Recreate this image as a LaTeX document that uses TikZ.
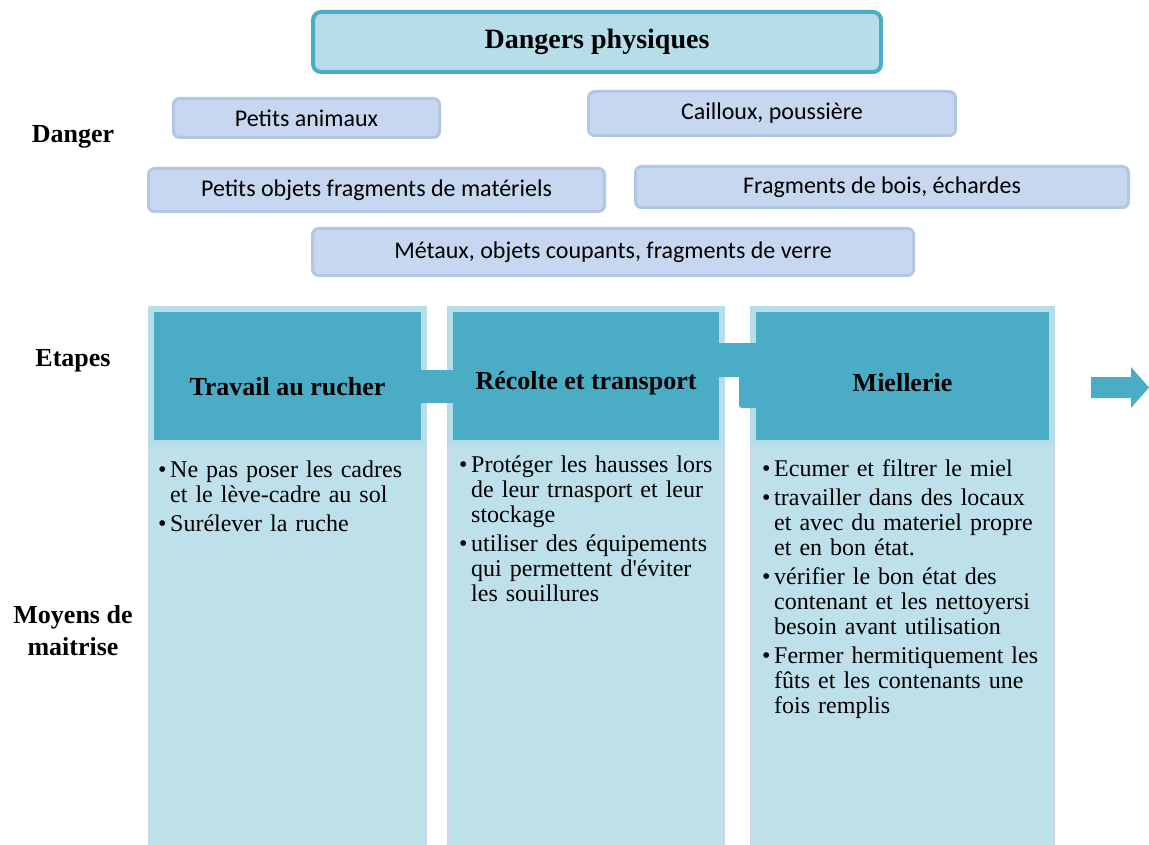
\documentclass[tikz,border=0pt]{standalone}
\usepackage{fontspec}
\setmainfont{Liberation Serif}[Ligatures=TeXOff]
\newfontfamily\calibfont{Carlito}
\usetikzlibrary{calc}

\definecolor{bleufonce}{HTML}{4BACC6}
\definecolor{bleuclair}{HTML}{B7DDE8}
\definecolor{bleucorps}{HTML}{BDE0EA}
\definecolor{lavande}{HTML}{C6D7EF}
\definecolor{lavandebord}{HTML}{B3C6E3}
\definecolor{corpsbord}{HTML}{CDD6E8}

% puce avec retrait suspendu
\newcommand{\puce}{\par\hangindent=12pt\hangafter=1\noindent\makebox[12pt][l]{\textbullet}}
\newcommand{\ligne}{\hfil\break}

\tikzset{
  danger/.style={draw=lavandebord, fill=lavande, line width=3pt, rounded corners=6pt,
    inner sep=0pt, font=\calibfont\fontsize{24}{28}\selectfont},
  entete/.style={draw=bleuclair, fill=bleufonce, line width=6pt, minimum height=134pt, inner sep=0pt},
  corps/.style={draw=corpsbord, fill=bleucorps, line width=2pt, anchor=north,
    minimum height=420pt, inner sep=0pt},
  titreetape/.style={inner sep=0pt, font=\bfseries\fontsize{26}{30}\selectfont},
  rangee/.style={inner sep=0pt, align=center, font=\bfseries\fontsize{26}{32}\selectfont},
  texte/.style={anchor=north west, text width=320pt, inner sep=0pt,
    font=\fontsize{24}{25}\selectfont\setlength{\parskip}{4pt}\raggedright}
}

\begin{document}
\begin{tikzpicture}[x=1pt,y=-1pt]
  \useasboundingbox (0,0) rectangle (1149,845);

  % titre
  \node[draw=bleufonce, fill=bleuclair, line width=4pt, rounded corners=8pt,
    minimum width=568, minimum height=60, font=\bfseries\fontsize{28}{32}\selectfont]
    (titre) at (597,42) {\raisebox{-2pt}{Dangers physiques}};

  % dangers
  \node[danger, minimum width=266, minimum height=39] (d1) at (306.5,118) {Petits animaux};
  \node[danger, minimum width=367, minimum height=44] (d2) at (772,113.5) {Cailloux, poussière};
  \node[danger, minimum width=456, minimum height=43] (d3) at (376.5,190) {Petits objets fragments de matériels};
  \node[danger, minimum width=493, minimum height=41] (d4) at (882,187) {Fragments de bois, échardes};
  \node[danger, minimum width=601, minimum height=47] (d5) at (613,252) {Métaux, objets coupants, fragments de verre};

  % libelles des rangees
  \node[rangee] (r1) at (73,137) {Danger};
  \node[rangee] (r2) at (73,361) {Etapes};
  \node[rangee] (r3) at (73,631) {Moyens de\\maitrise};

  % corps des colonnes
  \node[corps, minimum width=277] (c1) at (287.5,443) {};
  \node[corps, minimum width=276] (c2) at (586,443) {};
  \node[corps, minimum width=303] (c3) at (902.5,443) {};

  % entetes des etapes
  \node[entete, minimum width=273] (e1) at (287.5,376) {};
  \node[entete, minimum width=272] (e2) at (586,376) {};
  \node[entete, minimum width=299] (e3) at (902.5,376) {};

  % liaisons entre les etapes
  \fill[bleufonce] ($(e1.east)+(-6,-6)$) rectangle ($(e2.west)+(6,27)$);
  \fill[bleufonce] ($(e2.east)+(-6,-33)$) -- ($(e3.west)+(6,-33)$) -- ($(e3.west)+(6,32)$)
    -- ($(e3.west)+(-9,32)$) -- ($(e3.west)+(-11,30)$) -- ($(e3.west)+(-11,1)$)
    -- ($(e2.east)+(-6,1)$) -- cycle;

  % fleche finale
  \fill[bleufonce] (1091,377) -- (1131,377) -- (1131,367) -- (1149,387.5)
    -- (1131,408) -- (1131,398) -- (1091,398) -- cycle;

  % noms des etapes
  \node[titreetape] (n1) at ($(e1.center)+(0,11)$) {Travail au rucher};
  \node[titreetape] (n2) at ($(e2.center)+(0,7)$) {Récolte et transport};
  \node[titreetape] (n3) at ($(e3.center)+(0,7)$) {Miellerie};

  % moyens de maitrise
  \node[texte] (t1) at ($(c1.north west)+(10,5)$) {%
    \puce Ne pas poser les cadres\ligne et le lève-cadre au sol
    \puce Surélever la ruche\par};
  \node[texte] (t2) at ($(c2.north west)+(12,0)$) {%
    \puce Protéger les hausses lors\ligne de leur trnasport et leur\ligne stockage
    \puce utiliser des équipements\ligne qui permettent d'éviter\ligne les souillures\par};
  \node[texte] (t3) at ($(c3.north west)+(12,4)$) {%
    \puce Ecumer et filtrer le miel
    \puce travailler dans des locaux\ligne et avec du materiel propre\ligne et en bon état.
    \puce vérifier le bon état des\ligne contenant et les nettoyersi\ligne besoin avant utilisation
    \puce Fermer hermitiquement les\ligne fûts et les contenants une\ligne fois remplis\par};
\end{tikzpicture}
\end{document}
